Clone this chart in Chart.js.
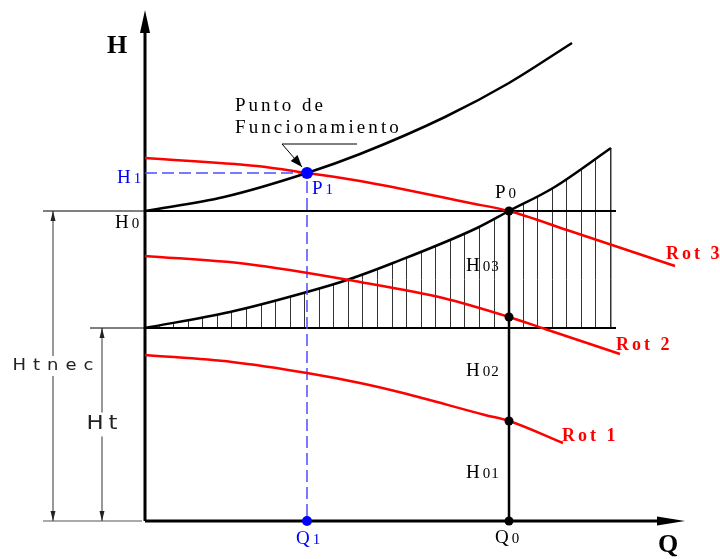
<!DOCTYPE html>
<html>
<head>
<meta charset="utf-8">
<script src="https://cdn.jsdelivr.net/npm/chart.js@4.4.1/dist/chart.umd.min.js"></script>
<style>
  body { margin: 0; background: #fff; }
  canvas { display: block; }
</style>
</head>
<body>
<canvas id="curvas" width="720" height="559"></canvas>
<script>
// Q y H en unidades del dibujo (origen en el cruce de los ejes)
const qSistema1 = [0, 79, 162, 215, 300, 364, 427];
const hSistema1 = [310, 324, 348, 367, 404, 438, 478];
const qSistema2 = [0, 85, 162, 202, 248, 332, 364, 408, 466];
const hSistema2 = [193, 209, 229, 241, 258, 293, 310, 333, 373];

const qRot3 = [0, 112, 162, 215, 325, 364, 422, 530];
const hRot3 = [363, 355, 348, 340, 318, 310, 291, 255];
const qRot2 = [0, 102, 215, 298, 364, 400, 475];
const hRot2 = [265, 257, 239, 223, 204, 192, 167];
const qRot1 = [0, 87, 162, 215, 258, 340, 364, 418];
const hRot1 = [166, 159, 148, 138, 128, 106, 100, 78];
const rotLabels = ['Rot 1', 'Rot 2', 'Rot 3'];

const H0 = 310, Ht = 193, H1 = 348, Q1 = 162, Q0 = 364;
const H02 = 204, H01 = 100;
const qFin = 471;          // fin de las rectas H0 y Ht
const qCotaTotal = -92;    // cota Htnec
const qCotaHt = -43;       // cota Ht
const qEje = 540, hEje = 511;
const leader = [[212, 377], [137, 377], [157, 354]];

const xy = (qs, hs) => qs.map((q, i) => ({ x: q, y: hs[i] }));
const recta = (q1, h1, q2, h2) => [{ x: q1, y: h1 }, { x: q2, y: h2 }];

const RED = '#ff0000';
const BLUE = '#0000ff';

let patron = null;
function rayado(context) {
    const chart = context.chart;
    const sx = chart.scales.x;
    if (!sx || !chart.chartArea) return 'transparent';
    if (patron) return patron;
    const c = document.createElement('canvas');
    c.width = chart.width;
    c.height = chart.height;
    const g = c.getContext('2d');
    g.strokeStyle = '#333';
    g.lineWidth = 1;
    const n = 32;
    const qEnd = qSistema2[qSistema2.length - 1];
    for (let k = 0; k <= n; k++) {
        const px = Math.round(sx.getPixelForValue(qEnd * k / n)) - 0.5;
        g.beginPath();
        g.moveTo(px, 0);
        g.lineTo(px, c.height);
        g.stroke();
    }
    patron = g.createPattern(c, 'no-repeat');
    return patron;
}

function linea(data, color, width, order, extra) {
    return Object.assign({
        data: data,
        borderColor: color,
        borderWidth: width,
        pointRadius: 0,
        fill: false,
        tension: 0,
        order: order
    }, extra || {});
}

function puntos(data, color, radius) {
    return {
        data: data,
        showLine: false,
        pointRadius: radius,
        pointBackgroundColor: color,
        pointBorderColor: color,
        pointBorderWidth: 0,
        order: 0
    };
}

// texto con separacion entre letras (sx = escala horizontal)
function espaciado(ctx, s, x, y, sp, align, sx) {
    sx = sx || 1;
    let w = 0;
    for (const ch of s) w += ctx.measureText(ch).width * sx + sp;
    w -= sp;
    let cx = align === 'center' ? x - w / 2 : x;
    for (const ch of s) {
        ctx.save();
        ctx.translate(cx, y);
        ctx.scale(sx, 1);
        ctx.fillText(ch, 0, 0);
        ctx.restore();
        cx += ctx.measureText(ch).width * sx + sp;
    }
    return w;
}

// letra con subindice
function conSub(ctx, main, sub, x, y, color) {
    ctx.fillStyle = color;
    ctx.font = '19px "Liberation Serif"';
    ctx.fillText(main, x, y);
    const w = ctx.measureText(main).width;
    ctx.font = '15px "Liberation Serif"';
    espaciado(ctx, sub, x + w + 3, y, 1, 'left');
}

function flecha(ctx, tx, ty, fx, fy, len, half) {
    const d = Math.hypot(tx - fx, ty - fy);
    const ux = (tx - fx) / d, uy = (ty - fy) / d;
    const bx = tx - ux * len, by = ty - uy * len;
    ctx.beginPath();
    ctx.moveTo(tx, ty);
    ctx.lineTo(bx - uy * half, by + ux * half);
    ctx.lineTo(bx + uy * half, by - ux * half);
    ctx.closePath();
    ctx.fill();
}

const dibujo = {
    id: 'dibujo',
    afterDatasetsDraw(chart) {
        const ctx = chart.ctx;
        const px = q => chart.scales.x.getPixelForValue(q);
        const py = h => chart.scales.y.getPixelForValue(h);
        ctx.save();
        ctx.fillStyle = '#000';

        // flechas de los ejes
        flecha(ctx, px(0), py(hEje), px(0), py(0), 23, 5);
        flecha(ctx, px(qEje), py(0), px(0), py(0), 28, 4.5);

        // flechas de cotas
        ctx.fillStyle = '#222';
        flecha(ctx, px(qCotaTotal), py(H0), px(qCotaTotal), py(0), 10, 2.5);
        flecha(ctx, px(qCotaTotal), py(0), px(qCotaTotal), py(H0), 10, 2.5);
        flecha(ctx, px(qCotaHt), py(Ht), px(qCotaHt), py(0), 10, 2.5);
        flecha(ctx, px(qCotaHt), py(0), px(qCotaHt), py(Ht), 10, 2.5);

        // flecha del punto de funcionamiento
        ctx.fillStyle = '#000';
        flecha(ctx, px(leader[2][0]), py(leader[2][1]), px(leader[1][0]), py(leader[1][1]), 12, 4.5);

        // textos de cotas (con hueco en la linea)
        ctx.textBaseline = 'middle';
        ctx.font = '15px "DejaVu Sans"';
        let cy = py(H0 / 2);
        ctx.fillStyle = '#fff';
        ctx.fillRect(px(qCotaTotal) - 3, cy - 10, 6, 20);
        ctx.fillStyle = '#222';
        espaciado(ctx, 'Htnec', px(qCotaTotal), cy, 7, 'center', 1.2);
        ctx.font = '19px "DejaVu Sans"';
        cy = py(Ht / 2);
        ctx.fillStyle = '#fff';
        ctx.fillRect(px(qCotaHt) - 3, cy - 12, 6, 24);
        ctx.fillStyle = '#222';
        espaciado(ctx, 'Ht', px(qCotaHt), cy, 5, 'center', 1.2);

        ctx.textBaseline = 'alphabetic';

        // ejes
        ctx.fillStyle = '#000';
        ctx.font = 'bold 26px "Liberation Serif"';
        ctx.fillText('H', px(0) - 38, py(hEje) + 43);
        ctx.fillText('Q', px(qEje) - 27, py(0) + 31);

        // punto de funcionamiento
        ctx.font = '19px "Liberation Serif"';
        espaciado(ctx, 'Punto de', px(leader[1][0]) - 47, py(leader[1][1]) - 33, 3, 'left');
        espaciado(ctx, 'Funcionamiento', px(leader[1][0]) - 47, py(leader[1][1]) - 11, 3.1, 'left');

        conSub(ctx, 'H', '1', px(0) - 28, py(H1) + 10, BLUE);
        conSub(ctx, 'P', '1', px(Q1) + 5, py(H1) + 21, BLUE);
        conSub(ctx, 'Q', '1', px(Q1) - 11, py(0) + 23, BLUE);
        conSub(ctx, 'H', '0', px(0) - 30, py(H0) + 17, '#000');
        conSub(ctx, 'P', '0', px(Q0) - 14, py(H0) - 13, '#000');
        conSub(ctx, 'Q', '0', px(Q0) - 14, py(0) + 22, '#000');
        conSub(ctx, 'H', '03', px(Q0) - 43, py((H0 + H02) / 2) + 7, '#000');
        conSub(ctx, 'H', '02', px(Q0) - 43, py((H02 + H01) / 2) + 7, '#000');
        conSub(ctx, 'H', '01', px(Q0) - 43, py(H01 / 2) + 7, '#000');

        // rotaciones
        ctx.fillStyle = RED;
        ctx.font = 'bold 18px "Liberation Serif"';
        const rots = [[qRot1, hRot1, -1, -2], [qRot2, hRot2, -4, -4], [qRot3, hRot3, -9, -7]];
        rots.forEach((r, i) => {
            const q = r[0][r[0].length - 1], h = r[1][r[1].length - 1];
            espaciado(ctx, rotLabels[i], px(q) + r[2], py(h) + r[3], 3, 'left');
        });

        ctx.restore();
    }
};

const qEnd = qSistema2[qSistema2.length - 1];
const hEnd = hSistema2[hSistema2.length - 1];

new Chart(document.getElementById('curvas'), {
    type: 'line',
    data: {
        datasets: [
            puntos([{ x: Q1, y: H1 }], BLUE, 6),
            puntos([{ x: Q1, y: 0 }], BLUE, 5),
            puntos(xy([Q0, Q0, Q0, Q0], [H0, H02, H01, 0]), '#000', 4.5),
            linea(xy(qRot3, hRot3), RED, 2.5, 1, { cubicInterpolationMode: 'monotone' }),
            linea(xy(qRot2, hRot2), RED, 2.5, 1, { cubicInterpolationMode: 'monotone' }),
            linea(xy(qRot1, hRot1), RED, 2.5, 1, { cubicInterpolationMode: 'monotone' }),
            linea([{ x: 0, y: H1 }, { x: Q1, y: H1 }, { x: Q1, y: 0 }], '#4d4dff', 1.5, 2, { borderDash: [12, 5] }),
            linea(xy(qSistema1, hSistema1), '#000', 2.5, 3, { cubicInterpolationMode: 'monotone' }),
            linea(recta(0, H0, qFin, H0), '#000', 2, 3),
            linea(recta(-102, H0, 0, H0), '#000', 1, 3),
            linea(recta(0, Ht, qFin, Ht), '#000', 2, 3),
            linea(recta(-55, Ht, 0, Ht), '#000', 1, 3),
            linea(recta(-102, 0, -3, 0), '#555', 1, 3),
            linea(recta(qCotaTotal, 0, qCotaTotal, H0), '#333', 1, 3),
            linea(recta(qCotaHt, 0, qCotaHt, Ht), '#333', 1, 3),
            linea(recta(Q0, 0, Q0, H0), '#000', 2.5, 3),
            linea(recta(0, 0, 0, hEje - 20), '#000', 3, 3),
            linea(recta(0, 0, qEje - 25, 0), '#000', 3, 3),
            linea(leader.map(p => ({ x: p[0], y: p[1] })), '#000', 1, 3),
            linea(recta(qEnd, Ht, qEnd, hEnd), '#333', 1, 4),
            linea(xy(qSistema2, hSistema2), '#000', 2.5, 5, {
                cubicInterpolationMode: 'monotone',
                fill: { value: Ht },
                backgroundColor: rayado
            })
        ]
    },
    options: {
        responsive: false,
        animation: false,
        events: [],
        layout: { padding: 0, autoPadding: false },
        plugins: {
            legend: { display: false },
            tooltip: { enabled: false }
        },
        scales: {
            x: { type: 'linear', min: -145, max: 575, display: false },
            y: { type: 'linear', min: -38, max: 521, display: false }
        }
    },
    plugins: [dibujo]
});
</script>
</body>
</html>
